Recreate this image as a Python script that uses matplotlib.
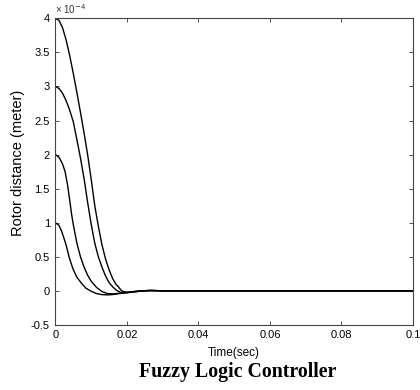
import matplotlib
matplotlib.use("Agg")
import matplotlib.pyplot as plt

# Rotor distance in units of 1e-4 m
t1 = [0, 0.001, 0.0017, 0.0022, 0.0027, 0.0031, 0.0038, 0.0044, 0.005, 0.006, 0.0073, 0.0085, 0.0101, 0.0115, 0.0129, 0.0145, 0.016, 0.018, 0.02, 0.023, 0.026, 0.03, 0.1]
v1 = [1.0, 0.96, 0.88, 0.80, 0.72, 0.65, 0.5, 0.40, 0.31, 0.20, 0.11, 0.04, -0.01, -0.04, -0.055, -0.06, -0.055, -0.04, -0.025, -0.008, 0.004, 0.0, 0.0]

t2 = [0, 0.001, 0.002, 0.0027, 0.0034, 0.004, 0.0045, 0.005, 0.006, 0.007, 0.008, 0.009, 0.010, 0.0115, 0.013, 0.0145, 0.016, 0.018, 0.02, 0.023, 0.026, 0.03, 0.1]
v2 = [2.0, 1.96, 1.86, 1.75, 1.55, 1.33, 1.13, 0.97, 0.70, 0.50, 0.35, 0.23, 0.14, 0.05, -0.01, -0.04, -0.045, -0.035, -0.02, -0.005, 0.005, 0.0, 0.0]

t3 = [0, 0.001, 0.002, 0.003, 0.004, 0.005, 0.006, 0.007, 0.008, 0.009, 0.010, 0.011, 0.012, 0.013, 0.014, 0.015, 0.016, 0.017, 0.0185, 0.02, 0.022, 0.025, 0.027, 0.03, 0.1]
v3 = [3.0, 2.97, 2.90, 2.79, 2.65, 2.48, 2.22, 1.95, 1.65, 1.30, 0.98, 0.70, 0.50, 0.35, 0.22, 0.12, 0.06, 0.01, -0.03, -0.03, -0.015, 0.0, 0.005, 0.0, 0.0]

t4 = [0, 0.001, 0.002, 0.003, 0.004, 0.005, 0.006, 0.007, 0.008, 0.009, 0.010, 0.011, 0.012, 0.013, 0.014, 0.015, 0.016, 0.017, 0.0176, 0.0185, 0.02, 0.022, 0.025, 0.027, 0.03, 0.1]
v4 = [4.0, 3.97, 3.86, 3.68, 3.45, 3.19, 2.91, 2.62, 2.32, 2.00, 1.64, 1.25, 0.95, 0.68, 0.47, 0.31, 0.18, 0.09, 0.06, 0.0, -0.025, -0.012, 0.0, 0.005, 0.0, 0.0]

xticks = [0, 0.02, 0.04, 0.06, 0.08, 0.1]
xticklabels = ["0", "0.02", "0.04", "0.06", "0.08", "0.1"]
yticks = [-0.5, 0, 0.5, 1, 1.5, 2, 2.5, 3, 3.5, 4]
yticklabels = ["-0.5", "0", "0.5", "1", "1.5", "2", "2.5", "3", "3.5", "4"]

plt.rcParams['font.family'] = ['Liberation Sans', 'DejaVu Sans']

fig = plt.figure(figsize=(4.2, 3.9), dpi=100)
ax = fig.add_axes([0.132, 0.167, 0.851, 0.786])

for t, v in [(t1, v1), (t2, v2), (t3, v3), (t4, v4)]:
    ax.plot(t, v, color='black', linewidth=1.0)

ax.set_xlim(0, 0.1)
ax.set_ylim(-0.5, 4)
ax.set_xticks(xticks)
ax.set_xticklabels(xticklabels)
ax.set_yticks(yticks)
ax.set_yticklabels(yticklabels)
ax.tick_params(direction='in', top=True, right=True, labelsize=8, length=3, width=0.6,
               colors='#333333', labelcolor='black', pad=4)
for s in ax.spines.values():
    s.set_linewidth(0.8)
    s.set_color('#444444')

ax.set_ylabel("Rotor distance (meter)", fontsize=10.5)
ax.yaxis.set_label_coords(-0.085, 0.53)
ax.set_xlabel("Time(sec)", fontsize=8.5, labelpad=5)
ax.text(0.0, 1.008, "× 10$^{-4}$", transform=ax.transAxes, fontsize=7, ha='left',
        va='bottom', color='#333333')

fig.text(0.565, 0.045, "Fuzzy Logic Controller", fontsize=14.3, fontweight='bold',
         family=['Liberation Serif'], ha='center', va='center')

fig.savefig("out.png", dpi=100)
